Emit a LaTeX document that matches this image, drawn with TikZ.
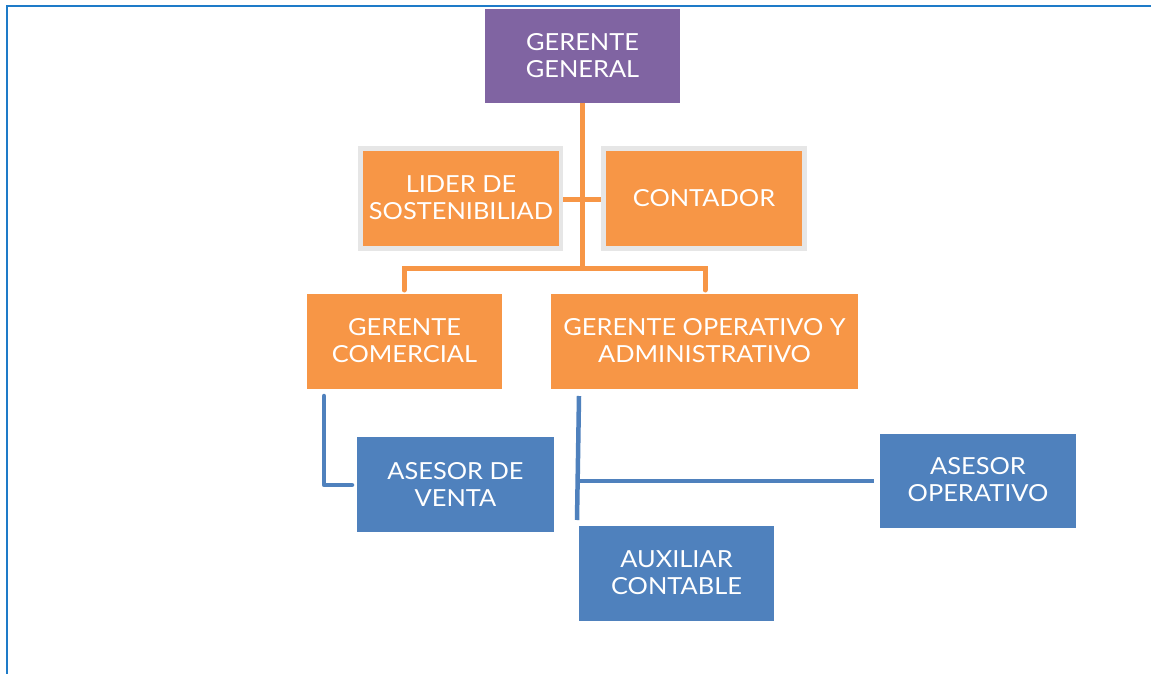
\documentclass[tikz,border=0pt]{standalone}
\usepackage{fontspec}
\setmainfont{Lato}[FakeStretch=1.08]
\definecolor{purp}{HTML}{8064A2}
\definecolor{orng}{HTML}{F79646}
\definecolor{blu}{HTML}{4F81BD}
\definecolor{frm}{HTML}{1E7BC8}
\definecolor{gry}{HTML}{E6E6E6}
\begin{document}
\begin{tikzpicture}[x=1pt,y=-1pt,
  boxtxt/.style={text=white,font=\fontsize{23.5}{27}\selectfont,align=center,inner sep=0pt},
  oline/.style={draw=orng,line width=5pt},
  bline/.style={draw=blu,line width=4.5pt}]
\useasboundingbox (0,0) rectangle (1151,674);
\fill[white] (0,0) rectangle (1151,674);
% frame
\draw[frm,line width=2.5pt] (7,680) -- (7,6) -- (1160,6);
% connectors (drawn first)
\coordinate (gtop) at (582,103);
\coordinate (bus) at (582,268);
\coordinate (busl) at (404,268);
\coordinate (busr) at (705,268);
\draw[oline] (gtop) -- (bus);
\draw[oline,line cap=round] (404,290) -- (busl) -- (busr) -- (705,290);
\draw[oline] (563,199) -- (601,199);
% boxes
\fill[purp] (485,9) rectangle (680,103);
\node[boxtxt] (gg) at (582.5,56) {GERENTE\\GENERAL};
\fill[gry] (358,146) rectangle (563,251);
\fill[orng] (363,151) rectangle (559,246);
\node[boxtxt] (lid) at (461,198) {LIDER DE\\SOSTENIBILIAD};
\fill[gry] (601,146) rectangle (807,251);
\fill[orng] (606,151) rectangle (802,246);
\node[boxtxt] (con) at (704,198) {CONTADOR};
\fill[orng] (307,294) rectangle (502,389);
\node[boxtxt] (gc) at (404.5,341) {GERENTE\\COMERCIAL};
\fill[orng] (551,294) rectangle (858,389);
\node[boxtxt] (goa) at (704.5,341) {GERENTE OPERATIVO Y\\ADMINISTRATIVO};
% blue connectors
\draw[bline,line cap=round,line join=round] (324,396) -- (324,485) -- (352,485);
\draw[bline] (579,396) -- (577,520);
\draw[bline] (579,481) -- (874,481);
\fill[blu] (357,437) rectangle (554,532);
\node[boxtxt] (av) at (455.5,484) {ASESOR DE\\VENTA};
\fill[blu] (880,434) rectangle (1076,528);
\node[boxtxt] (ao) at (978,480) {ASESOR\\OPERATIVO};
\fill[blu] (579,526) rectangle (774,621);
\node[boxtxt] (ac) at (676.5,573) {AUXILIAR\\CONTABLE};
\end{tikzpicture}
\end{document}
